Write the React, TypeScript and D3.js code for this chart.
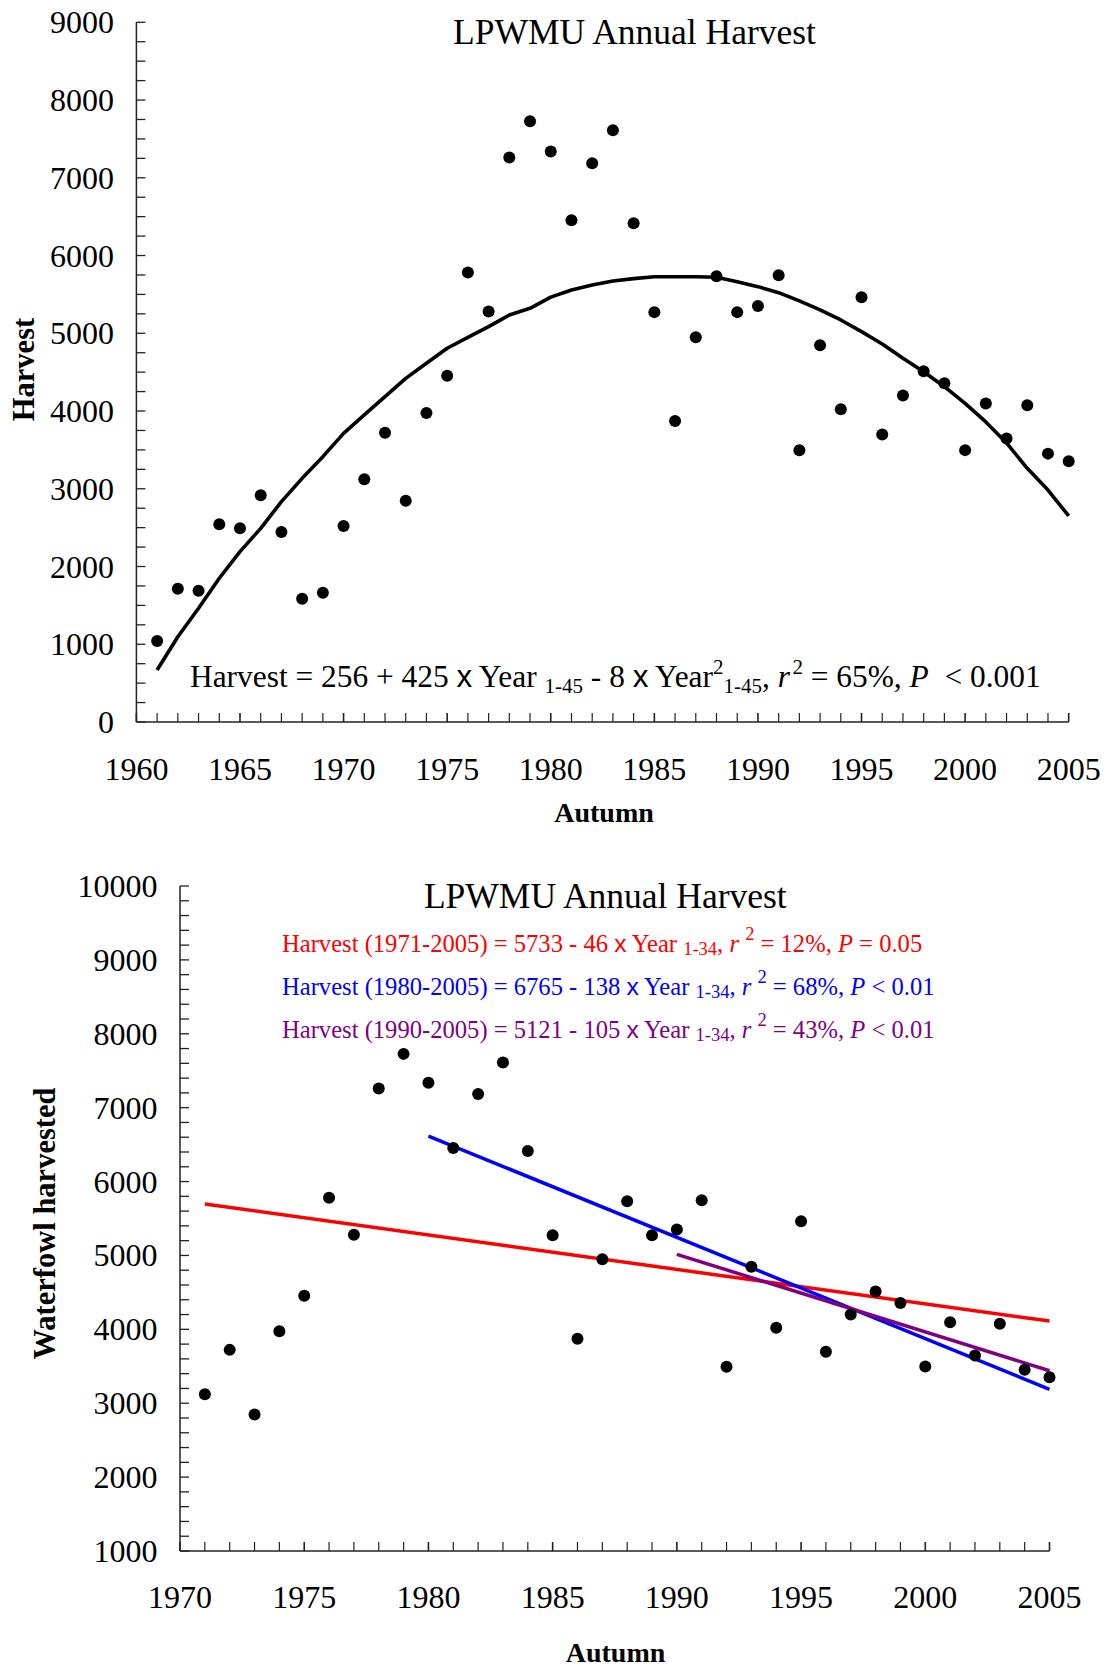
import React from 'react';
import * as d3 from 'd3';

// ---------- DATA ----------
const years = [
  1961, 1962, 1963, 1964, 1965, 1966, 1967, 1968, 1969, 1970,
  1971, 1972, 1973, 1974, 1975, 1976, 1977, 1978, 1979, 1980,
  1981, 1982, 1983, 1984, 1985, 1986, 1987, 1988, 1989, 1990,
  1991, 1992, 1993, 1994, 1995, 1996, 1997, 1998, 1999, 2000,
  2001, 2002, 2003, 2004, 2005,
];
const harvest = [
  1042, 1715, 1689, 2543, 2491, 2916, 2444, 1586, 1663, 2521,
  3122, 3722, 2847, 3975, 4455, 5782, 5280, 7260, 7728, 7338,
  6455, 7186, 7610, 6414, 5272, 3872, 4950, 5734, 5272, 5350,
  5747, 3495, 4846, 4022, 5463, 3698, 4201, 4511, 4357, 3497,
  4097, 3646, 4075, 3452, 3353,
];
// quadratic fit as drawn in the top panel
const fitted = [
  669, 1097, 1463, 1849, 2191, 2491, 2834, 3134, 3413, 3713,
  3950, 4185, 4420, 4614, 4807, 4948, 5085, 5235, 5321, 5465,
  5557, 5621, 5673, 5703, 5728, 5728, 5728, 5720, 5664, 5600,
  5522, 5416, 5300, 5171, 5021, 4862, 4678, 4506, 4313, 4099,
  3860, 3589, 3263, 2984, 2650,
];
// linear trends in the bottom panel (end points)
const redYears = [1971, 2005];
const redValues = [5696, 4112];
const blueYears = [1980, 2005];
const blueValues = [6616, 3188];
const purpleYears = [1990, 2005];
const purpleValues = [5015, 3440];

const topYTicks = [0, 1000, 2000, 3000, 4000, 5000, 6000, 7000, 8000, 9000];
const topXTicks = [1960, 1965, 1970, 1975, 1980, 1985, 1990, 1995, 2000, 2005];
const botYTicks = [1000, 2000, 3000, 4000, 5000, 6000, 7000, 8000, 9000, 10000];
const botXTicks = [1970, 1975, 1980, 1985, 1990, 1995, 2000, 2005];

const FONT = "'Liberation Serif', 'Times New Roman', serif";
const SANS = "'Liberation Sans', Arial, sans-serif";

type Seg = { t: string; shift?: number; size?: number; italic?: boolean; sans?: boolean };

function Rich({ x, y, segs, size, fill }: { x: number; y: number; segs: Seg[]; size: number; fill: string }) {
  let cur = 0;
  return (
    <text x={x} y={y} fontSize={size} fill={fill} fontFamily={FONT} style={{ whiteSpace: 'pre' }}>
      {segs.map((s, i) => {
        const target = s.shift || 0;
        const dy = target - cur;
        cur = target;
        return (
          <tspan
            key={i}
            dy={dy}
            fontSize={s.size || size}
            fontStyle={s.italic ? 'italic' : undefined}
            fontFamily={s.sans ? SANS : undefined}
          >
            {s.t}
          </tspan>
        );
      })}
    </text>
  );
}

export default function App() {
  // top panel scales
  const xT = d3.scaleLinear().domain([1960, 2005]).range([136.4, 1068.7]);
  const yT = d3.scaleLinear().domain([0, 9000]).range([722, 22.3]);
  // bottom panel scales
  const xB = d3.scaleLinear().domain([1970, 2005]).range([180, 1049.5]);
  const yB = d3.scaleLinear().domain([1000, 10000]).range([1551, 886]);

  const fitLine = d3
    .line<number>()
    .x((_, i) => xT(years[i]))
    .y((d) => yT(d));

  const seg = (ys: number[], vs: number[]) =>
    d3
      .line<number>()
      .x((_, i) => xB(ys[i]))
      .y((d) => yB(d))(vs) || '';

  const topMinorY = d3.range(0, 9001, 250);
  const botMinorY = d3.range(1000, 10001, 200);
  const topYearTicks = d3.range(1960, 2006, 1);
  const botYearTicks = d3.range(1970, 2006, 1);

  const tickLen = 9;
  const axisColor = '#222';
  const TICKFS = 32;
  const R = 6;

  const eqTop: Seg[] = [
    { t: 'Harvest = 256 + 425 ' },
    { t: 'x', sans: true },
    { t: ' Year ' },
    { t: '1-45', size: 21, shift: 6 },
    { t: ' - 8 ' },
    { t: 'x', sans: true },
    { t: ' Year' },
    { t: '2', size: 21, shift: -13 },
    { t: '1-45', size: 21, shift: 6 },
    { t: ', ' },
    { t: 'r', italic: true },
    { t: ' ', size: 10 },
    { t: '2', size: 21, shift: -13 },
    { t: ' = 65%, ' },
    { t: 'P', italic: true },
    { t: '  < 0.001' },
  ];

  const eqBot = (range: string, a: string, b: string, r2: string, p: string): Seg[] => [
    { t: `Harvest (${range}) = ${a} - ${b} ` },
    { t: 'x', sans: true },
    { t: ' Year ' },
    { t: '1-34', size: 18.5, shift: 3 },
    { t: ', ' },
    { t: 'r', italic: true },
    { t: ' ' },
    { t: '2', size: 18.5, shift: -12 },
    { t: ` = ${r2}%, ` },
    { t: 'P', italic: true },
    { t: p },
  ];

  return (
    <svg
      width={1104}
      height={1670}
      style={{ position: 'absolute', left: 0, top: 0, background: '#fff' }}
      fontFamily={FONT}
    >
      <rect x={0} y={0} width={1104} height={1670} fill="#fff" />

      {/* ================= TOP PANEL ================= */}
      <text x={634.5} y={44} fontSize={35.5} textAnchor="middle" fill="#000">
        LPWMU Annual Harvest
      </text>

      {/* axes */}
      <line x1={xT(1960)} x2={xT(1960)} y1={yT(0)} y2={yT(9000)} stroke={axisColor} strokeWidth={1.5} />
      <line x1={xT(1960)} x2={xT(2005)} y1={yT(0)} y2={yT(0)} stroke={axisColor} strokeWidth={1.5} />
      {topMinorY.map((v) => (
        <line key={'tyt' + v} x1={xT(1960)} x2={xT(1960) + tickLen} y1={yT(v)} y2={yT(v)} stroke={axisColor} strokeWidth={1.3} />
      ))}
      {topYearTicks.map((v) => (
        <line key={'txt' + v} x1={xT(v)} x2={xT(v)} y1={yT(0)} y2={yT(0) - tickLen} stroke={axisColor} strokeWidth={v % 5 === 0 ? 1.6 : 1.2} />
      ))}
      {topYTicks.map((v) => (
        <text key={'tyl' + v} x={114} y={yT(v) + 11} fontSize={TICKFS} textAnchor="end" fill="#000">
          {v}
        </text>
      ))}
      {topXTicks.map((v) => (
        <text key={'txl' + v} x={xT(v)} y={780} fontSize={TICKFS} textAnchor="middle" fill="#000">
          {v}
        </text>
      ))}
      <text x={604} y={821.7} fontSize={28} fontWeight="bold" textAnchor="middle" fill="#000">
        Autumn
      </text>
      <text transform="translate(34,369.5) rotate(-90)" fontSize={30.5} fontWeight="bold" textAnchor="middle" fill="#000">
        Harvest
      </text>

      <path d={fitLine(fitted) || ''} fill="none" stroke="#000" strokeWidth={3.6} strokeLinejoin="round" />
      {harvest.map((v, i) => (
        <circle key={'tp' + i} cx={xT(years[i])} cy={yT(v)} r={R} fill="#000" />
      ))}

      <Rich x={190} y={687.3} size={31.4} fill="#000" segs={eqTop} />

      {/* ================= BOTTOM PANEL ================= */}
      <text x={605.3} y={908.3} fontSize={35.5} textAnchor="middle" fill="#000">
        LPWMU Annual Harvest
      </text>

      <line x1={xB(1970)} x2={xB(1970)} y1={yB(1000)} y2={yB(10000)} stroke={axisColor} strokeWidth={1.5} />
      <line x1={xB(1970)} x2={xB(2005)} y1={yB(1000)} y2={yB(1000)} stroke={axisColor} strokeWidth={1.5} />
      {botMinorY.map((v) => (
        <line key={'byt' + v} x1={xB(1970)} x2={xB(1970) + tickLen} y1={yB(v)} y2={yB(v)} stroke={axisColor} strokeWidth={1.3} />
      ))}
      {botYearTicks.map((v) => (
        <line key={'bxt' + v} x1={xB(v)} x2={xB(v)} y1={yB(1000)} y2={yB(1000) - tickLen} stroke={axisColor} strokeWidth={v % 5 === 0 ? 1.6 : 1.2} />
      ))}
      {botYTicks.map((v) => (
        <text key={'byl' + v} x={157.5} y={yB(v) + 11} fontSize={TICKFS} textAnchor="end" fill="#000">
          {v}
        </text>
      ))}
      {botXTicks.map((v) => (
        <text key={'bxl' + v} x={xB(v)} y={1608.3} fontSize={TICKFS} textAnchor="middle" fill="#000">
          {v}
        </text>
      ))}
      <text x={615.5} y={1662} fontSize={28} fontWeight="bold" textAnchor="middle" fill="#000">
        Autumn
      </text>
      <text transform="translate(55.4,1223.5) rotate(-90)" fontSize={30.5} fontWeight="bold" textAnchor="middle" fill="#000">
        Waterfowl harvested
      </text>

      <path d={seg(redYears, redValues)} fill="none" stroke="#ff0000" strokeWidth={3.5} />
      <path d={seg(blueYears, blueValues)} fill="none" stroke="#0000ff" strokeWidth={3.5} />
      <path d={seg(purpleYears, purpleValues)} fill="none" stroke="#800080" strokeWidth={3.5} />

      {harvest.map((v, i) =>
        years[i] >= 1971 ? <circle key={'bp' + i} cx={xB(years[i])} cy={yB(v)} r={R} fill="#000" /> : null
      )}

      <Rich x={282} y={951.7} size={24.6} fill="#ff0000" segs={eqBot('1971-2005', '5733', '46', '12', ' = 0.05')} />
      <Rich x={282} y={995} size={24.6} fill="#0000ff" segs={eqBot('1980-2005', '6765', '138', '68', ' < 0.01')} />
      <Rich x={282} y={1037.7} size={24.6} fill="#800080" segs={eqBot('1990-2005', '5121', '105', '43', ' < 0.01')} />
    </svg>
  );
}
